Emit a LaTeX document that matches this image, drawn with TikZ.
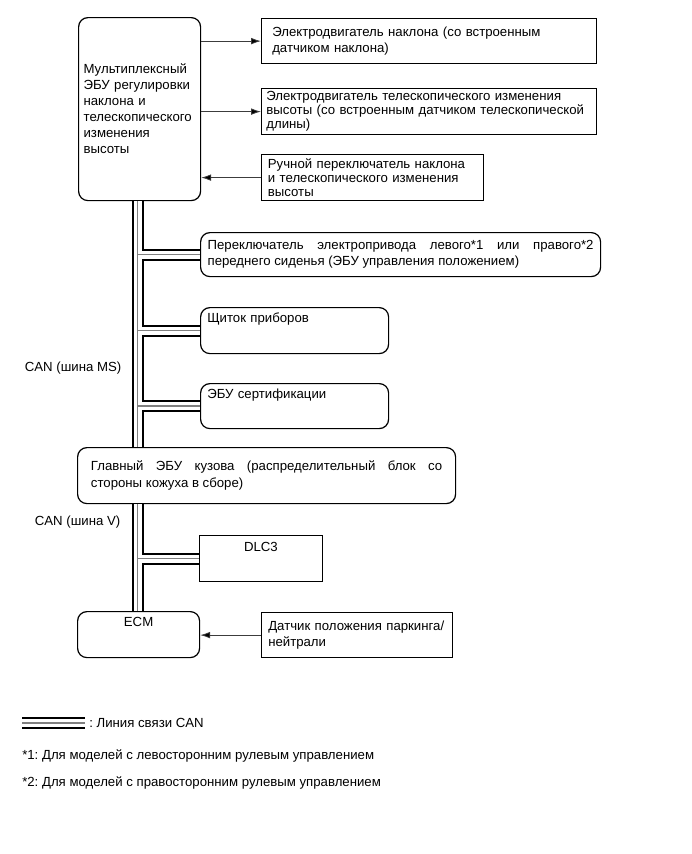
\documentclass[tikz,border=0pt]{standalone}
\usepackage{fontspec}
\setmainfont{Liberation Sans}
\frenchspacing
\definecolor{canGray}{RGB}{128,128,128}
\definecolor{sigGray}{RGB}{60,60,60}
\usetikzlibrary{arrows.meta,positioning}

\begin{document}
\begin{tikzpicture}[x=0.75pt, y=-0.75pt, font=\fontsize{9.9}{12}\selectfont,
    box/.style={draw, line width=0.9pt, fill=white, anchor=north west, align=left, inner xsep=5pt, inner ysep=2pt},
    rbox/.style={box, rounded corners=7pt},
    sig/.style={draw=sigGray, line width=0.6pt, -{Latex[length=7.5pt,width=5pt,fill=black]}},
    canbus/.style={draw=black, line width=9pt, postaction={draw=white, line width=6pt}, postaction={draw=canGray, line width=1.2pt}}]
    \useasboundingbox (0,0) rectangle (692,854);

    % multiplex ECU and its motors / switch
    \node[rbox, text width=84pt, inner xsep=3.75pt, minimum height=137.25pt] (mux) at (78,17)
        {Мультиплексный\\ЭБУ регулировки\\наклона и\\телескопического\\изменения\\высоты};
    \node[box, text width=235pt, inner xsep=8pt, minimum height=33.75pt] (tiltmotor) at (261,18)
        {Электродвигатель наклона (со встроенным\\датчиком наклона)};
    \node[box, text width=244pt, inner xsep=3.6pt, minimum height=34.5pt, font=\fontsize{9.9}{10.5}\selectfont] (telemotor) at (261,88)
        {Электродвигатель телескопического изменения\\высоты (со встроенным датчиком телескопической\\длины)};
    \node[box, text width=157pt, inner xsep=4.75pt, minimum height=34.5pt, font=\fontsize{9.9}{10.5}\selectfont] (tiltsw) at (261,154)
        {Ручной переключатель наклона\\и телескопического изменения\\высоты};

    \draw[sig] (tiltmotor.west -| mux.east) -- (tiltmotor.west);
    \draw[sig] (telemotor.west -| mux.east) -- (telemotor.west);
    \draw[sig] (tiltsw.west) -- (tiltsw.west -| mux.east);

    % CAN members
    \node[rbox, align=justify, text width=289.5pt, inner xsep=5.25pt, minimum height=33pt] (seatsw) at (200,232)
        {Переключатель электропривода левого*1 или правого*2\linebreak переднего сиденья (ЭБУ управления положением)};
    \node[rbox, text width=131pt, text height=9pt, text depth=21.5pt] (meter) at (200,307) {Щиток приборов};
    \node[rbox, text width=131pt, text height=9pt, text depth=20.75pt] (certecu) at (200,383) {ЭБУ сертификации};
    \node[rbox, align=justify, text width=263.5pt, inner xsep=10pt, minimum height=42pt, font=\fontsize{9.9}{13}\selectfont] (bodyecu) at (77,447)
        {Главный ЭБУ кузова (распределительный блок со\linebreak стороны кожуха в сборе)};
    \node[box, text width=82pt, align=center, text height=10pt, text depth=20.5pt] (dlc) at (199,535) {DLC3};
    \node[rbox, text width=81.5pt, align=center, text height=9.5pt, text depth=21pt] (ecm) at (77,611) {ECM};
    \node[box, text width=133pt, minimum height=33.75pt] (pnsensor) at (261,612)
        {Датчик положения паркинга/\\нейтрали};

    \draw[sig] (pnsensor.west) -- (pnsensor.west -| ecm.east);

    % CAN bus
    \coordinate (bus) at ([xshift=-1.5pt]mux.south);
    \draw[canbus] (bus) -- (bodyecu.north -| bus)
        (seatsw.west -| bus) -- (seatsw.west)
        (meter.west -| bus) -- (meter.west)
        (certecu.west -| bus) -- (certecu.west)
        (bodyecu.south -| bus) -- (ecm.north -| bus)
        (dlc.west -| bus) -- (dlc.west);

    \node[anchor=east] (canms) at (126,368) {CAN (шина MS)};
    \node[anchor=east] (canv) at (125,522) {CAN (шина V)};

    % legend
    \coordinate (legstart) at (22,723);
    \node[anchor=west, inner sep=0pt] (legend) at (89,723) {: Линия связи CAN};
    \draw[canbus] (legstart) -- ([xshift=-3pt]legend.west);
    \node[anchor=west, inner sep=0pt] (note1) at (22,756) {*1: Для моделей с левосторонним рулевым управлением};
    \node[anchor=west, inner sep=0pt] (note2) at (22,783) {*2: Для моделей с правосторонним рулевым управлением};
\end{tikzpicture}
\end{document}
